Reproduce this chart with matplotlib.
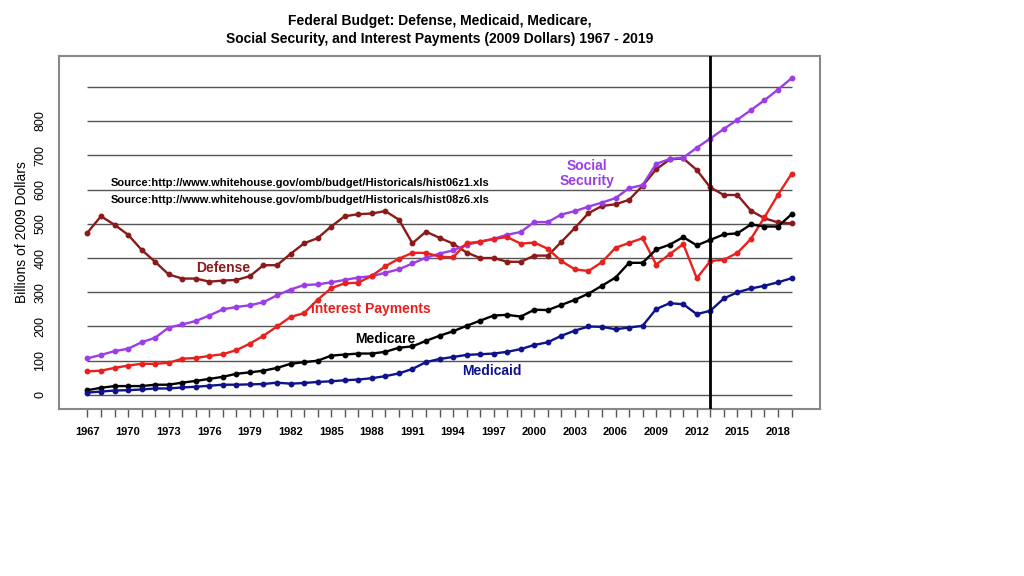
import numpy as np
import matplotlib
matplotlib.use("Agg")
import matplotlib.pyplot as plt

plt.rcParams['font.family'] = ['Liberation Sans', 'DejaVu Sans']

years = list(range(1967, 2020))

# Billions of 2009 dollars
defense = [474, 522, 497, 468, 424, 389, 352, 340, 340, 331, 334, 336, 347, 379, 379,
           412, 443, 458, 492, 522, 528, 530, 537, 512, 443, 477, 459, 442, 416, 400,
           400, 389, 389, 407, 407, 447, 488, 531, 552, 557, 570, 611, 659, 688, 691,
           657, 606, 584, 584, 538, 516, 504, 501]
social_security = [107, 117, 128, 135, 154, 167, 197, 206, 216, 232, 250, 257, 262, 271, 291,
                   308, 321, 323, 329, 336, 343, 347, 357, 367, 384, 401, 413, 422, 439, 447,
                   456, 468, 476, 505, 505, 527, 537, 550, 562, 575, 604, 613, 675, 689, 693,
                   722, 749, 777, 804, 832, 861, 892, 925]
interest = [69, 71, 79, 86, 91, 91, 94, 106, 108, 114, 119, 131, 150, 173, 200,
            228, 239, 278, 312, 326, 328, 348, 376, 398, 415, 415, 404, 402, 443, 448,
            456, 461, 442, 445, 427, 391, 367, 362, 388, 430, 444, 458, 381, 411, 441,
            341, 391, 395, 415, 456, 519, 585, 646]
medicare = [14, 21, 26, 26, 26, 30, 30, 36, 41, 47, 53, 62, 66, 71, 79,
            91, 96, 100, 115, 118, 121, 121, 126, 138, 142, 158, 173, 186, 202, 217,
            232, 234, 229, 249, 248, 263, 278, 296, 319, 343, 386, 386, 425, 439, 461,
            437, 453, 469, 472, 498, 492, 492, 528]
medicaid = [7, 10, 13, 14, 16, 19, 19, 22, 24, 27, 30, 30, 31, 32, 36,
            33, 35, 38, 40, 43, 45, 49, 55, 63, 76, 96, 105, 111, 117, 119,
            121, 126, 134, 146, 154, 173, 188, 200, 199, 192, 197, 202, 251, 268, 265,
            236, 246, 282, 300, 311, 319, 329, 341]

fig = plt.figure(figsize=(10.24, 5.76), dpi=100)
ax = fig.add_axes([0.0576, 0.2899, 0.7432, 0.6129])

ax.hlines(range(0, 1000, 100), 1967, 2019, colors="#555555", linewidth=1, zorder=1)

ax.plot(years, defense, color="#8B1A1A", lw=1.7, marker="o", ms=3.2, zorder=3)
ax.plot(years, social_security, color="#9B3DE8", lw=1.7, marker="o", ms=3.2, zorder=3)
ax.plot(years, interest, color="#E8211E", lw=1.7, marker="o", ms=3.2, zorder=3)
ax.plot(years, medicare, color="black", lw=1.7, marker="o", ms=3.2, zorder=3)
ax.plot(years, medicaid, color="#10128C", lw=1.7, marker="o", ms=3.2, zorder=3)

ax.axvline(2013, color="black", lw=2, zorder=4)

ax.text(1977.0, 372, "Defense", color="#8B1A1A", fontsize=10, fontweight="bold", ha="center", va="center")
ax.text(1987.9, 251, "Interest Payments", color="#E8211E", fontsize=10, fontweight="bold", ha="center", va="center")
ax.text(1989.0, 163, "Medicare", color="black", fontsize=10, fontweight="bold", ha="center", va="center")
ax.text(1996.9, 70, "Medicaid", color="#10128C", fontsize=10, fontweight="bold", ha="center", va="center")
ax.text(2003.9, 648, "Social\nSecurity", color="#9B3DE8", fontsize=10, fontweight="bold",
        ha="center", va="center", linespacing=1.1)
ax.text(1968.7, 619, "Source:http://www.whitehouse.gov/omb/budget/Historicals/hist06z1.xls",
        fontsize=8, fontweight="bold", ha="left", va="center")
ax.text(1968.7, 569, "Source:http://www.whitehouse.gov/omb/budget/Historicals/hist08z6.xls",
        fontsize=8, fontweight="bold", ha="left", va="center")

ax.set_xlim(1964.9, 2021.1)
ax.set_ylim(-41, 990)

ax.set_xticks(years)
ax.set_xticklabels([str(y) if (y - 1967) % 3 == 0 else "" for y in years],
                   fontsize=8, fontweight="bold")
ax.tick_params(axis="x", direction="out", length=6, width=1, color="#555555", pad=7)
ax.set_yticks(range(0, 900, 100))
ax.set_yticklabels([str(v) for v in range(0, 900, 100)], rotation=90, va="center", fontsize=9)
ax.tick_params(axis="y", length=0, pad=9)
ax.set_ylabel("Billions of 2009 Dollars", fontsize=10, labelpad=4)

for s in ax.spines.values():
    s.set_color("#888888")
    s.set_linewidth(1.5)

fig.text(0.4292, 0.975, "Federal Budget: Defense, Medicaid, Medicare,\n"
         "Social Security, and Interest Payments (2009 Dollars) 1967 - 2019",
         ha="center", va="top", fontsize=10, fontweight="bold", linespacing=1.3)

fig.savefig("out.png", dpi=100)
